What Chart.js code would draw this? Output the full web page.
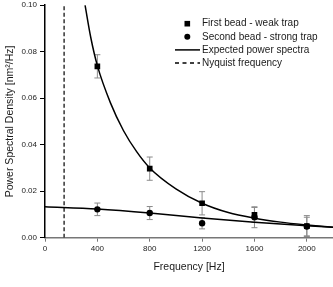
<!DOCTYPE html>
<html>
<head>
<meta charset="utf-8">
<script src="https://cdn.jsdelivr.net/npm/chart.js@4"></script>
<style>
  html, body { margin: 0; padding: 0; background: #fff; }
  #wrap { width: 333px; height: 287px; }
</style>
</head>
<body>
<div id="wrap"><canvas id="psd"></canvas></div>
<script>
// measured points (Hz, nm^2/Hz) and their error bars
const freqs = [400, 800, 1200, 1600, 2000];
const weakVals = [0.0737, 0.0297, 0.0148, 0.0098, 0.0050];
const weakErr = [0.0050, 0.0050, 0.0050, 0.0032, 0.0045];
const strongVals = [0.0122, 0.0106, 0.0062, 0.0088, 0.0048];
const strongErr = [0.0027, 0.0028, 0.0024, 0.0045, 0.0040];

// expected spectra
const weakCurveF = [306, 350, 400, 500, 600, 700, 800, 1000, 1200, 1400, 1600, 1800, 2000, 2200];
const weakCurveV = [0.100, 0.086, 0.074, 0.058, 0.046, 0.037, 0.030, 0.021, 0.0148, 0.0108, 0.0084, 0.0067, 0.0055, 0.0045];
const strongCurveF = [0, 400, 800, 1200, 1600, 2000, 2200];
const strongCurveV = [0.0133, 0.0123, 0.0106, 0.0085, 0.0066, 0.0051, 0.0045];

const nyquist = 146;

const xTicks = [0, 400, 800, 1200, 1600, 2000];
const yTicks = [0, 0.02, 0.04, 0.06, 0.08, 0.10];

const legendLabels = ['First bead - weak trap', 'Second bead - strong trap', 'Expected power spectra', 'Nyquist frequency'];

const FONT = '"Liberation Sans", Arial, Helvetica, sans-serif';

const pts = (xs, ys) => xs.map((x, i) => ({ x: x, y: ys[i] }));

// error bars, behind the markers
const errorBars = {
  id: 'errorBars',
  beforeDatasetsDraw(chart) {
    const { ctx, scales: { x, y } } = chart;
    ctx.save();
    ctx.strokeStyle = '#8a8a8a';
    ctx.lineWidth = 1;
    const draw = (vals, errs) => {
      vals.forEach((v, i) => {
        const px = x.getPixelForValue(freqs[i]);
        const top = y.getPixelForValue(v + errs[i]);
        const bot = y.getPixelForValue(v - errs[i]);
        ctx.beginPath();
        ctx.moveTo(px, top); ctx.lineTo(px, bot);
        ctx.moveTo(px - 3, top); ctx.lineTo(px + 3, top);
        ctx.moveTo(px - 3, bot); ctx.lineTo(px + 3, bot);
        ctx.stroke();
      });
    };
    draw(weakVals, weakErr);
    draw(strongVals, strongErr);
    ctx.restore();
  }
};

// legend in the upper right of the plot
const boxLegend = {
  id: 'boxLegend',
  afterDraw(chart) {
    const { ctx, chartArea } = chart;
    const x0 = chartArea.right - 158;
    const textX = x0 + 27;
    let yy = chartArea.top + 18.5;
    ctx.save();
    ctx.font = '10px ' + FONT;
    ctx.textBaseline = 'middle';
    legendLabels.forEach((lab, i) => {
      ctx.fillStyle = '#000';
      ctx.strokeStyle = '#000';
      if (i === 0) {
        ctx.fillRect(x0 + 9.5, yy - 2.8, 5.6, 5.6);
      } else if (i === 1) {
        ctx.beginPath(); ctx.arc(x0 + 12.3, yy, 3, 0, Math.PI * 2); ctx.fill();
      } else {
        ctx.lineWidth = 1.5;
        ctx.setLineDash(i === 3 ? [4, 3.5] : []);
        ctx.beginPath(); ctx.moveTo(x0, yy); ctx.lineTo(x0 + 25, yy); ctx.stroke();
        ctx.setLineDash([]);
      }
      ctx.fillStyle = '#1a1a1a';
      ctx.fillText(lab, textX, yy);
      yy += 13.1;
    });
    ctx.restore();
  }
};

new Chart(document.getElementById('psd'), {
  type: 'scatter',
  data: {
    datasets: [
      {
        data: pts(freqs, weakVals),
        pointStyle: 'rect', pointRadius: 4, pointHoverRadius: 4,
        backgroundColor: '#000', borderColor: '#000', borderWidth: 0
      },
      {
        data: pts(freqs, strongVals),
        pointStyle: 'circle', pointRadius: 3.2, pointHoverRadius: 3.2,
        backgroundColor: '#000', borderColor: '#000', borderWidth: 0
      },
      {
        data: pts(weakCurveF, weakCurveV),
        showLine: true, pointRadius: 0, borderColor: '#000', borderWidth: 1.5,
        cubicInterpolationMode: 'monotone'
      },
      {
        data: pts(strongCurveF, strongCurveV),
        showLine: true, pointRadius: 0, borderColor: '#000', borderWidth: 1.5,
        cubicInterpolationMode: 'monotone'
      },
      {
        data: [{ x: nyquist, y: 0 }, { x: nyquist, y: 0.1 }],
        showLine: true, pointRadius: 0, borderColor: '#333', borderWidth: 1.5,
        borderDash: [4, 2.5]
      }
    ]
  },
  options: {
    responsive: true,
    maintainAspectRatio: false,
    animation: false,
    layout: { autoPadding: false, padding: { top: 5.2, right: 0, bottom: 0, left: 0 } },
    plugins: { legend: { display: false }, tooltip: { enabled: false } },
    scales: {
      x: {
        type: 'linear', min: 0, max: 2200,
        afterBuildTicks: (axis) => { axis.ticks = xTicks.map(v => ({ value: v })); },
        afterFit: (axis) => { axis.height = 49.3; axis.paddingLeft = 0; axis.paddingRight = 0; },
        grid: { drawOnChartArea: false, drawTicks: true, tickLength: 4, color: '#777', lineWidth: 1 },
        border: { color: '#777', width: 1.5 },
        ticks: { color: '#222', padding: 2, font: { size: 8, family: FONT }, maxRotation: 0, callback: (v) => String(v) },
        title: { display: true, text: 'Frequency [Hz]', color: '#1a1a1a', font: { size: 10.5, family: FONT }, padding: { top: 0, bottom: 13.7 } }
      },
      y: {
        type: 'linear', min: 0, max: 0.1,
        afterBuildTicks: (axis) => { axis.ticks = yTicks.map(v => ({ value: v })); },
        afterFit: (axis) => { axis.width = 45; axis.paddingTop = 0; axis.paddingBottom = 0; },
        grid: { drawOnChartArea: false, drawTicks: true, tickLength: 5, color: '#000', lineWidth: 1 },
        border: { color: '#000', width: 1.5 },
        ticks: { color: '#222', padding: 3, font: { size: 8, family: FONT }, callback: (v) => v.toFixed(2) },
        title: { display: true, text: 'Power Spectral Density [nm²/Hz]', color: '#1a1a1a', font: { size: 10.5, family: FONT }, padding: { top: 3.7, bottom: 0 } }
      }
    }
  },
  plugins: [errorBars, boxLegend]
});
</script>
</body>
</html>
